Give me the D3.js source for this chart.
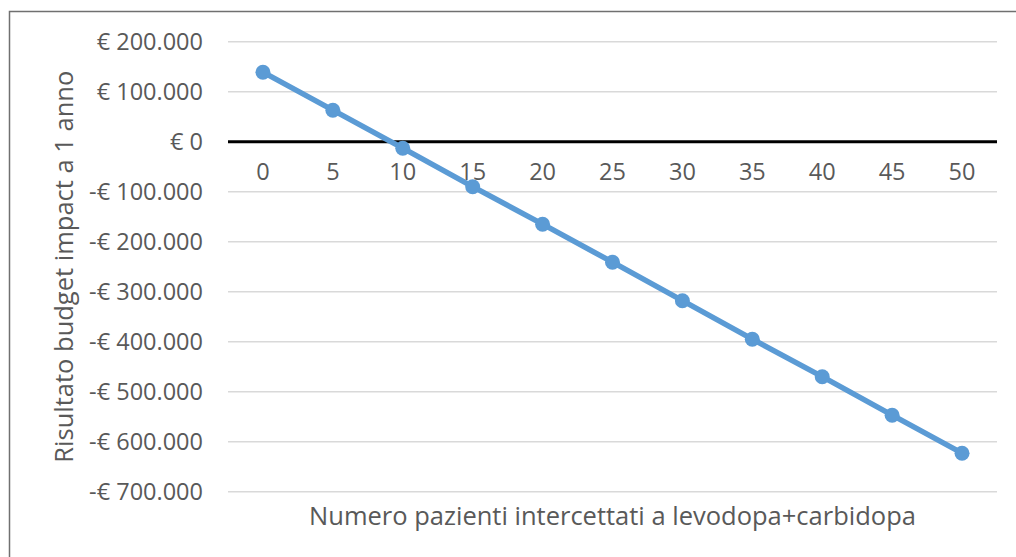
<!DOCTYPE html>
<html>
<head>
<meta charset="utf-8">
<script src="https://cdn.jsdelivr.net/npm/d3@7"></script>
<style>
  body { margin: 0; background: #fff; }
  svg { display: block; font-family: "Open Sans", "Noto Sans", sans-serif; }
</style>
</head>
<body>
<svg id="chart" width="1016" height="557"></svg>
<script>
// data
var patients = [0, 5, 10, 15, 20, 25, 30, 35, 40, 45, 50];
var budgetImpact = [139000, 63000, -13000, -90000, -165000, -241000, -318000, -395000, -470000, -547000, -623000];
var yTicks = [200000, 100000, 0, -100000, -200000, -300000, -400000, -500000, -600000, -700000];
var xTitle = "Numero pazienti intercettati a levodopa+carbidopa";
var yTitle = "Risultato budget impact a 1 anno";

var svg = d3.select('#chart');
var plotL = 228, plotR = 997, plotT = 41.7, plotB = 491.7;
var textColor = "#595959";

// outer frame (cropped on the right and bottom in the original)
svg.append("rect")
    .attr("x", 9.5).attr("y", 11.5)
    .attr("width", 1100).attr("height", 700)
    .attr("fill", "none")
    .attr("stroke", "#707070")
    .attr("stroke-width", 1.5);

var xScale = d3.scalePoint()
    .domain(patients)
    .range([plotL, plotR])
    .padding(0.5);

var yScale = d3.scaleLinear()
    .domain([-700000, 200000])
    .range([plotB, plotT]);

function fmtEuro(v){
    var s = d3.format(",")(Math.abs(v)).replace(/,/g, ".");
    return (v < 0 ? "-€ " : "€ ") + s;
}

// gridlines
svg.append("g").selectAll("line")
    .data(yTicks.filter(function(d){ return d !== 0 }))
    .enter().append("line")
    .attr("x1", plotL).attr("x2", plotR)
    .attr("y1", function(d){ return yScale(d) })
    .attr("y2", function(d){ return yScale(d) })
    .attr("stroke", "#d9d9d9")
    .attr("stroke-width", 1.5);

// y labels
svg.append("g").selectAll("text")
    .data(yTicks)
    .enter().append("text")
    .attr("x", 203)
    .attr("y", function(d){ return yScale(d) })
    .attr("dy", "0.35em")
    .attr("text-anchor", "end")
    .attr("font-size", 23.5)
    .attr("fill", textColor)
    .text(fmtEuro);

// zero axis line
svg.append("line")
    .attr("x1", plotL).attr("x2", plotR)
    .attr("y1", yScale(0)).attr("y2", yScale(0))
    .attr("stroke", "#000")
    .attr("stroke-width", 3);

// x tick labels under the zero line
svg.append("g").selectAll("text")
    .data(patients)
    .enter().append("text")
    .attr("x", function(d){ return xScale(d) })
    .attr("y", 180)
    .attr("text-anchor", "middle")
    .attr("font-size", 23.5)
    .attr("fill", textColor)
    .text(function(d){ return d });

// series line
var line = d3.line()
    .x(function(d, i){ return xScale(patients[i]) })
    .y(function(d){ return yScale(d) });

svg.append("path")
    .datum(budgetImpact)
    .attr("d", line)
    .attr("fill", "none")
    .attr("stroke", "#5b9bd5")
    .attr("stroke-width", 5.5)
    .attr("stroke-linejoin", "round");

svg.append("g").selectAll("circle")
    .data(budgetImpact)
    .enter().append("circle")
    .attr("cx", function(d, i){ return xScale(patients[i]) })
    .attr("cy", function(d){ return yScale(d) })
    .attr("r", 7.5)
    .attr("fill", "#5b9bd5");

// axis titles
svg.append("text")
    .attr("x", (plotL + plotR) / 2)
    .attr("y", 525)
    .attr("text-anchor", "middle")
    .attr("font-size", 25.5)
    .attr("fill", textColor)
    .text(xTitle);

svg.append("text")
    .attr("transform", "translate(73," + ((plotT + plotB) / 2) + ") rotate(-90)")
    .attr("text-anchor", "middle")
    .attr("font-size", 25.5)
    .attr("fill", textColor)
    .text(yTitle);
</script>
</body>
</html>
